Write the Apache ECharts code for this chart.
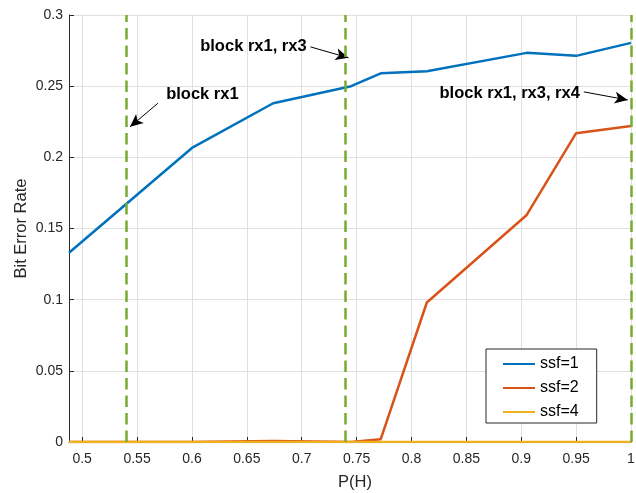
<!DOCTYPE html>
<html>
<head>
<meta charset="utf-8">
<script src="https://cdn.jsdelivr.net/npm/echarts@6/dist/echarts.min.js"></script>
<style>
  html, body { margin: 0; padding: 0; background: #fff; }
  #chart { width: 636px; height: 493px; }
</style>
</head>
<body>
<div id="chart"></div>
<script>
let chart = echarts.init(document.getElementById('chart'));

// P(H) sample points and BER per ssf
let pH = [0.488, 0.6, 0.674, 0.745, 0.772, 0.814, 0.905, 0.95, 1.0];
let ssf1 = [0.133, 0.2066, 0.238, 0.250, 0.259, 0.2605, 0.2734, 0.2713, 0.2804];
let ssf2 = [0, 0, 0.0007, 0, 0.002, 0.098, 0.1595, 0.217, 0.222];
let ssf4 = [0, 0, 0, 0, 0, 0, 0, 0, 0];
let seriesNames = ['ssf=1', 'ssf=2', 'ssf=4'];

// blocking thresholds and their notes
let blockX = [0.5366, 0.745, 1.0];
let noteText = ['block rx1', 'block rx1, rx3', 'block rx1, rx3, rx4'];
let noteX = [0.6095, 0.656, 0.8895];
let noteY = [0.2444, 0.2776, 0.2446];
let arrowFrom = [[0.5690, 0.2380], [0.7080, 0.2776], [0.9570, 0.2460]];
let arrowTo = [[0.5436, 0.2214], [0.7427, 0.2699], [0.9970, 0.2403]];

let axisColor = '#262626';
let gridColor = '#e0e0e0';

function pairs(ys) {
  return pH.map((x, i) => [x, ys[i]]);
}

let options = {
  animation: false,
  grid: {
    left: 69,
    right: 5,
    top: 15,
    bottom: 51,
    outerBoundsMode: 'none'
  },
  legend: {
    data: seriesNames,
    orient: 'vertical',
    left: 486,
    top: 349,
    padding: [7, 18, 3, 16],
    itemGap: 8,
    itemWidth: 32,
    itemHeight: 14,
    itemStyle: { opacity: 0 },
    backgroundColor: '#fff',
    borderColor: axisColor,
    borderWidth: 1,
    borderRadius: 0,
    textStyle: {
      fontFamily: 'Liberation Sans',
      fontSize: 16,
      color: '#000'
    }
  },
  xAxis: {
    type: 'value',
    min: 0.488,
    max: 1,
    splitNumber: 10,
    name: 'P(H)',
    nameLocation: 'middle',
    nameGap: 32,
    nameTextStyle: {
      fontFamily: 'Liberation Sans',
      fontSize: 16.5,
      color: axisColor,
      padding: [0, 0, 0, 10]
    },
    axisLine: { lineStyle: { color: axisColor, width: 1 } },
    axisTick: { inside: true, length: 5, lineStyle: { color: axisColor } },
    axisLabel: {
      showMinLabel: false,
      margin: 10,
      fontFamily: 'Liberation Sans',
      fontSize: 14,
      color: axisColor
    },
    splitLine: { show: true, lineStyle: { color: gridColor, width: 1 } }
  },
  yAxis: {
    type: 'value',
    min: 0,
    max: 0.3,
    interval: 0.05,
    name: 'Bit Error Rate',
    nameLocation: 'middle',
    nameGap: 39,
    nameMoveOverlap: false,
    nameTextStyle: {
      fontFamily: 'Liberation Sans',
      fontSize: 16.5,
      color: axisColor
    },
    axisLine: { show: true, lineStyle: { color: axisColor, width: 1 } },
    axisTick: { show: true, inside: true, length: 5, lineStyle: { color: axisColor } },
    axisLabel: {
      margin: 6,
      fontFamily: 'Liberation Sans',
      fontSize: 14,
      color: axisColor
    },
    splitLine: { show: true, lineStyle: { color: gridColor, width: 1 } }
  },
  series: [
    {
      name: seriesNames[0],
      type: 'line',
      data: pairs(ssf1),
      symbol: 'none',
      color: '#0072BD',
      lineStyle: { width: 2.5 },
      markPoint: {
        silent: true,
        symbol: 'rect',
        symbolSize: 1,
        itemStyle: { color: 'rgba(0,0,0,0)' },
        label: {
          show: true,
          position: 'inside',
          fontFamily: 'Liberation Sans',
          fontWeight: 'bold',
          fontSize: 16.5,
          color: '#000'
        },
        data: noteText.map((t, i) => ({
          coord: [noteX[i], noteY[i]],
          label: { formatter: t }
        }))
      },
      markLine: {
        silent: true,
        symbol: ['none', 'arrow'],
        symbolSize: [9, 13],
        label: { show: false },
        lineStyle: { color: '#000', width: 1, type: 'solid' },
        data: arrowFrom.map((p, i) => [
          { coord: p },
          { coord: arrowTo[i] }
        ])
      }
    },
    {
      name: seriesNames[1],
      type: 'line',
      data: pairs(ssf2),
      symbol: 'none',
      color: '#D95319',
      lineStyle: { width: 2.5 }
    },
    {
      name: seriesNames[2],
      type: 'line',
      data: pairs(ssf4),
      symbol: 'none',
      color: '#EDB120',
      lineStyle: { width: 2.5 },
      markLine: {
        silent: true,
        symbol: ['none', 'none'],
        label: { show: false },
        lineStyle: { color: '#77AC30', width: 2.5, type: [11.5, 6] },
        data: blockX.map(x => ({ xAxis: x }))
      }
    }
  ]
};

chart.setOption(options);
</script>
</body>
</html>
